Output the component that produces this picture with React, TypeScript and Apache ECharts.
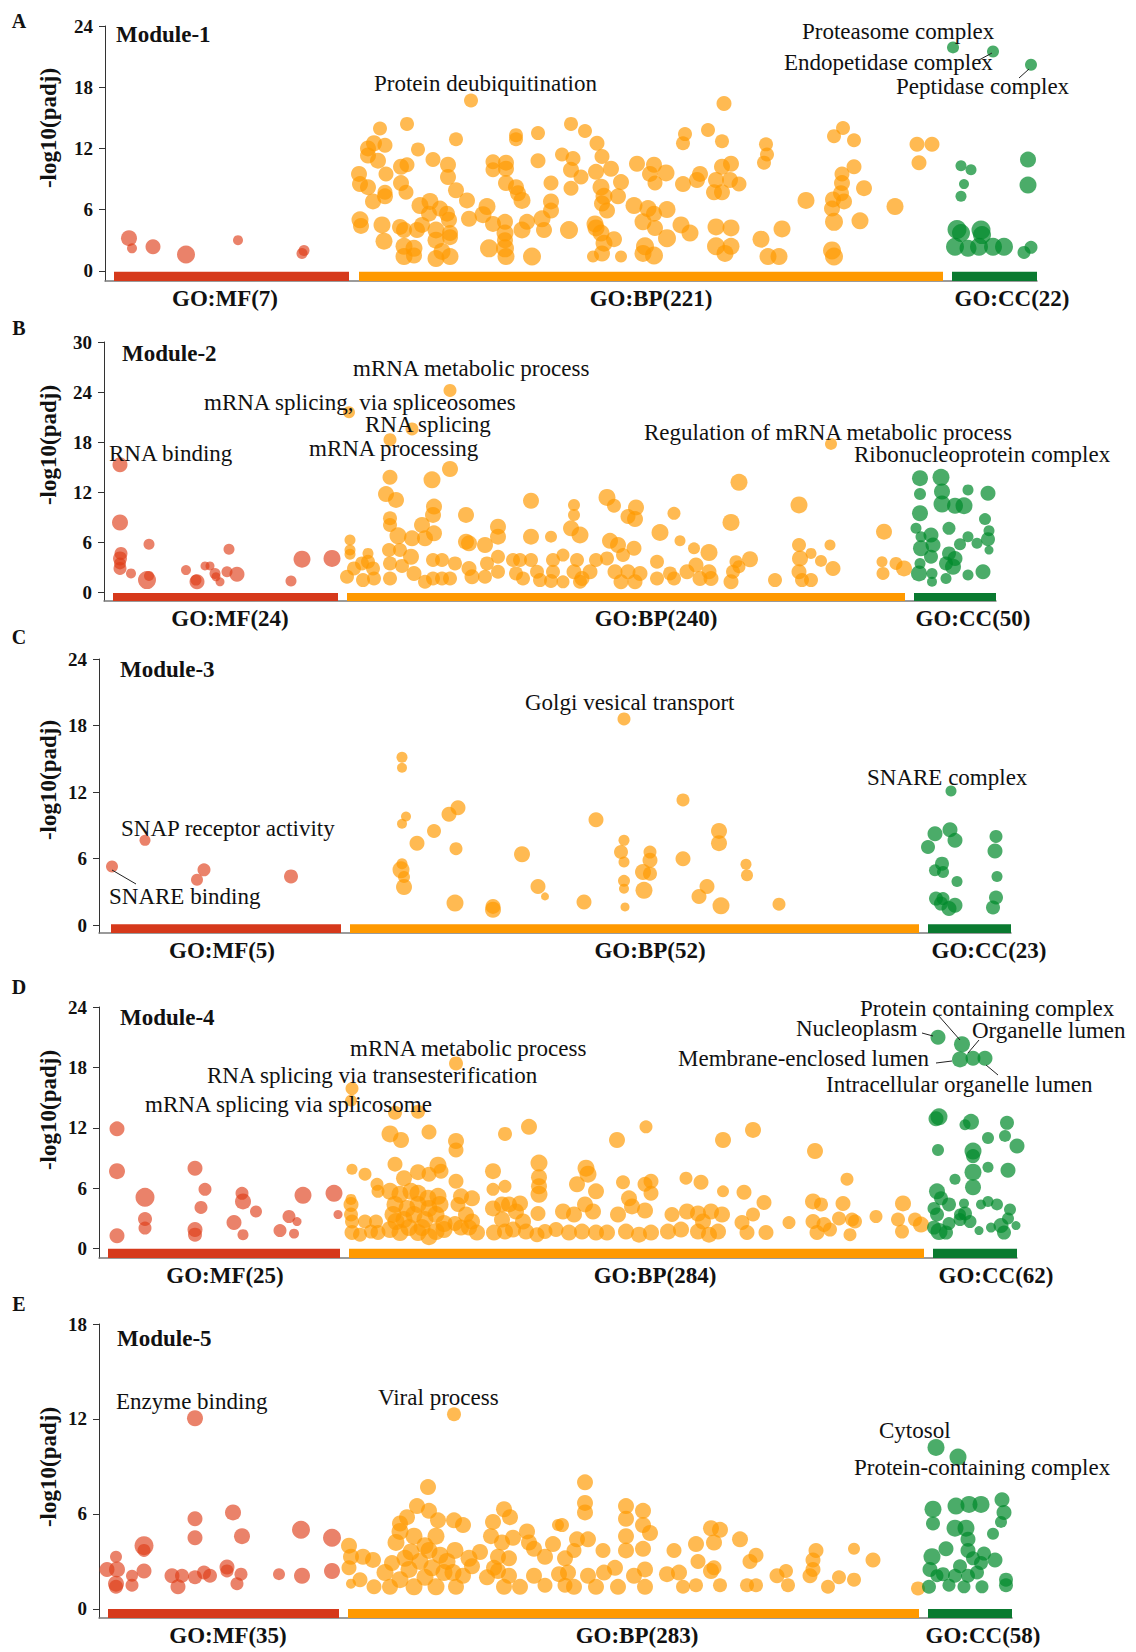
import React, { useEffect, useRef } from 'react';
import * as echarts from 'echarts';

// ---------- data: [term position, -log10(padj), term size marker] ----------
const m1MF = [[129,3.2,14],[132,2.2,8],[153,2.35,13],[186,1.6,16],[238,3.0,8],[304,2.0,9],[302,1.7,9]];
const m1BP = [[471,16.7,12],[380,13.95,12],[407,14.4,12],[368,12.0,14],[374,12.5,14],[385,12.3,13],[368,11.3,14],[378,10.8,14],[418,11.9,12],[456,12.9,12],[516,13.3,12],[516,12.9,12],[538,13.5,12],
[359,9.5,14],[360,8.5,14],[368,8.2,14],[386,9.5,13],[401,10.2,14],[407,10.4,13],[401,8.6,14],[406,7.7,13],[433,10.9,13],[448,10.4,14],[448,9.2,14],[456,7.9,14],[493,10.7,13],[493,9.9,13],[506,10.6,14],[506,10.0,14],[506,8.6,14],[516,8.2,14],[538,10.8,13],[551,8.6,13],
[373,6.8,14],[385,7.3,14],[385,7.7,13],[420,6.4,15],[430,6.8,15],[429,5.6,14],[440,6.1,14],[447,5.6,14],[467,6.9,14],[487,6.3,15],[518,7.6,14],[522,6.9,15],[551,6.8,14],[551,5.9,14],
[360,5.0,15],[361,4.4,14],[382,4.5,15],[400,4.3,14],[404,4.0,14],[417,4.0,14],[422,4.5,14],[436,4.0,15],[449,5.0,14],[450,3.7,14],[469,5.1,14],[483,5.5,15],[493,4.6,14],[505,4.8,14],[505,3.7,15],[505,3.0,14],[522,4.0,15],[527,4.8,14],[542,5.1,15],[544,4.0,14],
[384,2.9,15],[404,2.4,15],[404,1.4,15],[414,2.2,15],[414,1.5,14],[436,3.0,15],[436,1.2,15],[442,1.9,15],[450,1.4,15],[450,3.3,14],[489,2.2,16],[505,2.2,16],[506,1.4,15],[532,1.4,16],
[724,16.4,13],[571,14.4,12],[585,13.7,12],[597,12.5,13],[685,13.4,12],[683,12.5,12],[708,13.8,12],[722,12.7,12],[766,12.4,12],[767,11.4,12],[764,10.6,12],[834,13.2,12],[843,14.0,12],[854,12.8,12],[917,12.4,13],[932,12.4,13],[919,10.6,13],
[562,11.4,12],[573,11.0,13],[571,9.9,14],[602,11.2,13],[596,9.7,14],[611,10.0,14],[637,10.5,14],[654,10.4,14],[650,9.5,14],[666,9.6,15],[655,8.6,13],[683,8.5,14],[697,8.9,14],[700,9.5,14],[722,10.2,14],[731,10.5,14],[716,8.9,14],[730,8.9,14],[739,8.5,13],[621,8.7,14],[571,8.1,13],[581,9.2,13],[601,8.2,15],[604,7.3,15],[714,7.7,14],[722,7.7,14],
[842,9.5,13],[842,8.6,14],[854,10.2,13],[864,8.1,14],[841,7.6,14],[833,7.0,14],[844,6.8,14],[806,6.9,15],[895,6.3,15],
[618,7.3,14],[634,6.4,15],[602,6.6,14],[607,5.9,14],[648,6.1,15],[654,5.6,14],[667,6.0,15],[643,4.8,15],[832,6.1,14],[834,4.8,16],[860,4.9,15],
[569,4.0,16],[595,4.6,15],[601,3.7,15],[596,4.2,15],[604,2.7,15],[614,3.1,14],[593,1.4,10],[602,1.7,14],[621,1.4,10],[655,4.2,14],[667,3.2,16],[681,4.5,15],[690,3.7,15],[716,4.3,15],[731,4.2,15],[716,2.4,16],[731,2.4,15],[725,1.7,15],[645,2.4,16],[654,1.5,16],[643,1.7,15],[761,3.1,15],[782,4.1,15],[768,1.4,15],[779,1.4,15],[832,2.0,16],[834,1.4,16]];
const m1CC = [[953,21.9,10],[993,21.5,10],[1031,20.2,10],[961,10.3,9],[971,9.9,9],[964,8.5,8],[961,7.3,9],[1028,10.9,14],[1028,8.4,15],[957,4.05,17],[961,3.7,16],[981,4.0,17],[982,3.5,16],[955,2.35,16],[968,2.2,15],[979,2.35,16],[993,2.35,16],[1004,2.35,16],[1024,1.8,11],[1031,2.3,11]];

const m2MF = [[120,15.3,13],[120,8.4,14],[121,4.7,11],[120,4.1,12],[120,2.9,11],[120,3.5,10],[131,2.3,8],[147,1.5,16],[149,2.0,8],[149,5.8,9],[186,2.7,8],[197,1.3,13],[196,1.5,9],[205,3.2,7],[210,3.2,7],[215,2.3,9],[220,1.3,7],[216,1.9,7],[229,5.2,9],[227,2.5,9],[237,2.2,13],[291,1.4,9],[302,4.0,15],[332,4.1,15]];
const m2BP = [[349,21.6,10],[450,24.2,11],[412,19.6,11],[390,18.3,11],[450,14.8,14],[390,13.8,13],[432,13.5,15],[386,11.8,14],[396,11.1,14],[531,11.0,14],[466,9.3,14],[434,10.3,14],[433,9.3,14],[390,8.9,12],[390,8.1,12],[422,8.1,14],[434,7.1,14],[398,6.8,15],[412,6.5,14],[425,6.5,14],[498,7.9,14],[498,6.7,14],[531,6.7,14],[551,6.7,10],[466,6.1,14],[469,5.9,14],[485,5.7,14],
[350,6.3,9],[350,5.1,9],[350,4.6,9],[368,4.7,9],[389,5.1,12],[400,5.1,12],[411,4.3,14],[402,3.2,12],[347,1.9,12],[354,2.9,12],[362,3.5,12],[363,1.5,12],[374,1.7,12],[373,2.9,12],[368,3.7,12],[390,3.5,12],[390,1.7,12],[414,2.3,13],[425,1.3,12],[433,1.7,12],[442,1.7,12],[442,3.9,12],[433,3.9,12],[450,1.7,12],[455,3.5,12],[472,1.9,13],[469,2.9,13],[487,3.5,12],[485,1.9,12],[498,4.3,12],[498,2.5,12],[513,3.9,12],[520,3.9,12],[516,2.3,12],[523,1.7,12],[531,3.9,12],[537,2.5,12],[540,1.5,12],[553,3.9,12],[553,2.5,12],[551,1.4,12],
[831,17.8,10],[739,13.2,15],[607,11.4,15],[614,10.4,12],[636,10.2,14],[628,9.1,13],[635,8.8,14],[674,9.5,11],[799,10.5,15],[731,8.4,15],[884,7.3,14],[574,10.5,10],[574,9.3,10],[660,7.2,15],[571,7.7,14],[580,6.9,15],[610,6.2,14],[618,5.7,14],[634,5.3,13],[623,4.5,12],[680,6.2,9],[694,5.3,10],[709,4.8,15],[799,5.7,12],[830,5.7,9],[750,4.0,14],[736,3.7,11],[800,4.1,14],[811,4.7,9],[821,3.8,10],[833,2.9,13],[882,3.7,9],[896,3.5,11],[904,2.9,14],[883,2.3,11],[563,4.5,11],[577,3.9,12],[596,3.9,12],[563,1.3,11],[574,2.5,13],[582,1.7,13],[590,2.5,13],[580,1.3,12],[607,4.1,12],[615,2.5,13],[621,1.3,13],[628,2.5,13],[635,1.3,13],[640,2.3,13],[657,3.7,12],[657,1.7,12],[670,2.3,12],[674,1.7,12],[687,2.5,13],[696,3.3,13],[700,1.7,13],[709,2.5,13],[711,1.7,13],[731,1.3,13],[733,2.5,12],[739,3.1,11],[775,1.5,12],[799,2.5,13],[802,1.5,12],[811,1.5,12]];
const m2CC = [[997,15.3,12],[920,13.7,14],[941,13.8,15],[968,12.3,9],[988,11.9,13],[920,11.8,10],[942,12.1,14],[942,10.6,15],[955,10.4,14],[964,10.4,15],[920,9.5,14],[985,8.8,10],[916,7.7,9],[949,7.7,11],[989,7.4,9],[921,6.7,9],[931,6.9,13],[933,5.7,13],[921,5.3,14],[968,6.7,9],[977,5.9,9],[960,5.8,10],[988,6.4,12],[989,5.1,7],[949,4.7,12],[955,4.1,13],[931,4.3,12],[920,3.5,9],[946,3.5,12],[953,3.1,14],[919,2.3,14],[932,2.3,9],[932,1.3,8],[946,1.7,9],[968,2.1,9],[983,2.5,13]];

const m3MF = [[112,5.3,10],[145,7.65,9],[204,5.0,11],[197,4.1,10],[291,4.4,12]];
const m3BP = [[402,15.15,9],[402,14.2,8],[406,9.8,8],[402,9.15,8],[434,8.5,12],[417,7.4,13],[449,10.0,13],[458,10.6,13],[456,6.9,11],[522,6.4,14],[402,5.55,9],[401,5.0,15],[404,4.35,10],[404,3.45,14],[538,3.5,13],[545,2.6,6],[455,2.0,15],[493,1.7,13],[493,1.4,14],
[624,18.6,11],[683,11.3,11],[596,9.5,13],[624,7.65,9],[621,6.6,12],[624,5.7,9],[650,6.6,11],[650,5.85,13],[643,4.8,14],[650,4.65,12],[683,6.0,13],[719,8.5,14],[719,7.4,14],[746,5.5,9],[747,4.5,10],[624,4.0,10],[624,3.3,8],[644,3.15,15],[707,3.5,13],[699,2.6,13],[584,2.1,13],[625,1.65,7],[721,1.75,15],[779,1.9,11]];
const m3CC = [[951,12.1,9],[935,8.25,13],[950,8.6,13],[955,7.65,13],[928,7.05,12],[996,8.0,11],[995,6.7,13],[942,5.55,12],[935,4.95,10],[943,4.8,10],[957,3.95,9],[997,4.4,9],[936,2.4,12],[943,2.4,11],[955,1.8,13],[949,1.5,13],[941,1.95,12],[996,2.5,12],[993,1.6,12]];

const m4MF = [[117,11.9,13],[117,7.7,14],[117,1.3,13],[145,5.1,17],[145,2.95,12],[145,2.05,11],[195,8.0,13],[205,5.9,11],[201,4.1,11],[195,1.9,13],[195,1.4,12],[234,2.6,13],[242,5.5,11],[243,4.7,14],[256,3.7,10],[243,1.4,9],[280,1.8,11],[294,1.5,8],[289,3.2,11],[297,2.7,7],[303,5.3,15],[334,5.5,15],[338,3.4,7]];
const m4BP = [[352,15.9,11],[351,14.7,10],[456,18.4,12],[395,13.5,12],[418,13.6,12],[390,11.4,15],[401,10.8,14],[429,11.6,13],[456,10.7,14],[456,9.8,13],[505,11.4,12],[529,12.1,14],[395,8.4,13],[404,7.0,14],[418,7.6,14],[429,7.4,13],[438,8.3,15],[441,7.7,13],[456,6.7,13],[493,7.7,14],[493,5.9,11],[505,6.2,11],[539,8.5,15],[539,7.1,14],[539,6.2,14],[539,5.4,15],[352,7.9,9],[365,7.4,11],[377,6.4,11],[378,5.7,11],[351,4.9,9],[351,4.4,13],[351,3.4,12],[352,2.7,12],[352,1.6,13],[360,1.4,12],[365,2.7,12],[376,2.7,12],[371,1.7,12],[378,1.6,13],
[390,5.7,15],[400,5.4,15],[411,5.7,15],[418,5.5,15],[428,5.0,15],[438,5.2,15],[395,4.4,15],[407,4.0,15],[418,4.4,15],[429,4.0,15],[440,4.4,15],[393,3.4,15],[404,2.9,15],[414,3.4,15],[425,2.9,15],[436,3.4,15],[444,2.5,15],[390,1.9,15],[400,1.6,15],[409,2.1,15],[418,1.6,15],[429,1.2,15],[436,1.7,15],[444,1.9,15],[396,2.7,15],[422,2.1,15],
[461,5.2,14],[472,5.0,14],[458,4.4,13],[466,3.4,14],[472,2.7,14],[461,2.1,14],[477,1.6,14],[469,2.1,14],[455,2.5,13],
[493,4.0,14],[502,4.4,14],[509,4.4,14],[520,4.5,14],[516,3.7,14],[502,2.9,14],[523,2.7,14],[494,1.6,14],[505,1.7,14],[513,1.9,14],[526,1.7,14],[537,1.4,13],[538,3.5,13],[545,1.7,13],[556,1.9,13],
[646,12.1,11],[617,10.8,14],[723,10.8,14],[753,11.8,14],[815,9.7,14],[586,8.0,15],[588,7.4,15],[577,6.4,14],[596,5.7,14],[623,6.6,12],[651,6.7,13],[645,6.4,13],[651,5.5,13],[686,7.0,11],[701,6.6,13],[847,6.9,11],[723,5.7,10],[744,5.6,13],[764,4.6,13],[903,4.5,14],[629,5.0,14],[632,4.2,14],[645,3.8,14],[618,3.4,14],[585,4.4,14],[593,3.7,14],[574,3.4,14],[563,3.7,14],[672,3.4,13],[687,3.7,14],[698,3.5,14],[711,3.7,14],[722,3.4,14],[703,2.7,14],[753,3.4,12],[742,2.6,13],[813,4.7,14],[821,4.4,12],[843,4.5,13],[813,2.7,13],[824,2.4,13],[839,3.0,12],[852,2.9,12],[855,2.7,12],[876,3.2,11],[789,2.6,11],[898,2.9,12],[915,2.9,12],[921,2.4,14],[902,1.7,12],
[569,1.6,14],[582,1.7,14],[596,1.6,14],[607,1.6,14],[626,1.7,14],[639,1.4,14],[651,1.6,14],[668,1.7,14],[681,1.9,14],[698,1.7,14],[709,1.4,14],[718,1.7,14],[747,1.6,13],[766,1.6,13],[817,1.6,13],[830,1.9,12],[850,1.4,11]];
const m4CC = [[938,21.0,13],[962,20.3,14],[960,18.8,14],[973,18.9,13],[985,18.9,13],[939,13.1,15],[936,12.9,13],[971,12.6,14],[965,12.3,9],[1007,12.5,12],[1005,11.2,10],[1017,10.2,13],[988,11.0,10],[938,9.8,10],[973,9.7,15],[973,9.2,12],[988,8.1,9],[1008,7.8,13],[973,7.6,15],[955,6.9,9],[973,6.1,14],[937,5.7,14],[941,5.0,12],[949,4.4,12],[964,4.5,8],[981,4.4,8],[988,4.7,9],[997,4.4,10],[934,4.0,11],[937,3.4,12],[965,3.5,12],[960,2.9,11],[970,2.7,11],[1010,3.9,10],[1008,3.0,10],[934,2.1,12],[939,1.7,15],[946,1.6,12],[949,2.5,11],[979,1.8,7],[991,2.1,8],[1001,2.3,13],[1004,1.6,12],[1016,2.3,7],[960,3.4,10]];

const m5MF = [[195,12.05,14],[233,6.1,14],[195,5.7,13],[195,4.5,13],[242,4.6,14],[301,5.0,16],[332,4.5,16],[144,4.0,17],[144,3.7,11],[116,3.3,10],[117,2.5,14],[107,2.5,13],[116,1.6,14],[116,1.4,12],[132,2.1,10],[132,1.5,11],[144,2.4,13],[172,2.1,13],[178,1.4,13],[182,2.1,12],[195,2.0,12],[204,2.3,12],[210,2.1,12],[227,2.65,13],[227,2.4,11],[237,1.6,11],[241,2.2,11],[279,2.2,10],[302,2.1,14],[332,2.4,14]];
const m5BP = [[454,12.3,12],[428,7.7,14],[417,6.5,14],[429,6.2,14],[438,5.6,14],[400,5.4,14],[407,5.8,14],[454,5.6,14],[463,5.3,14],[504,6.3,14],[493,5.5,14],[510,5.8,14],[491,4.6,14],[558,5.3,10],[527,4.9,14],[529,4.2,14],[400,4.9,15],[396,4.2,15],[414,4.6,15],[436,4.6,15],[429,3.7,15],[440,3.4,15],[455,3.7,15],[469,3.2,15],[349,4.0,14],[351,3.3,14],[363,3.3,14],[373,3.1,14],[502,4.2,14],[513,4.5,14],[498,3.3,14],[509,3.2,14],[534,3.8,14],[545,3.3,14],[553,4.1,14],[565,3.2,14],
[420,3.0,15],[432,2.6,15],[447,3.0,15],[405,3.2,15],[392,2.9,14],[425,4.0,15],[411,3.6,15],[498,2.4,14],[480,3.6,14],
[349,2.6,13],[360,1.85,13],[351,1.6,8],[374,1.4,13],[385,2.3,15],[390,1.4,14],[400,1.85,15],[409,2.5,15],[414,1.4,15],[425,2.0,15],[436,1.4,15],[444,2.3,15],[453,2.3,15],[456,1.4,14],[463,2.1,14],[472,2.7,14],[487,2.0,14],[494,2.6,14],[504,1.4,14],[509,2.1,14],[520,1.4,14],[534,2.1,14],[545,1.5,13],[559,2.2,14],[565,1.5,13],
[585,8.0,14],[585,6.7,14],[585,6.1,14],[626,6.5,14],[643,6.2,14],[626,5.7,14],[643,5.3,14],[650,4.8,14],[626,4.6,14],[643,3.8,14],[626,3.7,14],[562,5.3,12],[577,4.4,14],[588,4.4,14],[574,3.7,13],[603,3.7,13],[711,5.1,14],[720,5.0,14],[696,4.1,14],[714,4.2,14],[740,4.4,14],[674,3.7,13],[698,3.0,13],[714,2.6,13],[750,3.0,13],[756,3.4,13],[816,3.7,13],[813,3.1,13],[854,3.8,10],[873,3.1,13],
[568,2.3,14],[574,1.4,14],[588,2.1,14],[596,1.4,14],[604,2.3,14],[615,2.6,14],[618,1.4,14],[634,2.1,14],[645,2.5,14],[645,1.4,14],[667,2.2,14],[679,2.3,14],[683,1.4,12],[696,1.5,12],[711,2.4,14],[720,1.5,12],[747,1.5,12],[756,1.5,12],[777,2.1,13],[786,2.4,12],[788,1.5,12],[810,2.1,13],[813,2.5,13],[828,1.4,12],[839,2.0,12],[854,1.85,12],[918,1.3,12]];
const m5CC = [[936,10.2,15],[958,9.6,15],[933,6.3,15],[956,6.5,15],[969,6.6,15],[981,6.6,15],[1002,6.9,13],[1004,6.1,13],[1001,5.5,10],[1013,4.6,13],[993,4.75,10],[933,5.4,12],[955,5.1,15],[966,5.1,15],[968,4.4,13],[946,3.8,13],[932,3.3,15],[968,3.7,13],[973,3.2,12],[984,3.5,12],[995,3.1,13],[981,2.9,12],[930,2.5,13],[943,2.2,12],[960,2.7,12],[968,2.1,12],[977,2.3,12],[929,1.4,12],[949,1.5,11],[964,1.4,11],[982,1.4,11],[1006,1.85,12],[1006,1.5,12],[937,2.1,11],[955,2.1,12]];

// category spans along the term-position axis (MF, BP, CC)
const m1Spans = [[114,349],[359,943],[952,1037]];
const m2Spans = [[113,338],[347,905],[914,996]];
const m3Spans = [[111,341],[350,919],[928,1011]];
const m4Spans = [[108,340],[349,924],[933,1017]];
const m5Spans = [[108,339],[348,919],[928,1012]];

const categoryLabels = [
  ['GO:MF(7)','GO:BP(221)','GO:CC(22)'],
  ['GO:MF(24)','GO:BP(240)','GO:CC(50)'],
  ['GO:MF(5)','GO:BP(52)','GO:CC(23)'],
  ['GO:MF(25)','GO:BP(284)','GO:CC(62)'],
  ['GO:MF(35)','GO:BP(283)','GO:CC(58)'],
];
const moduleNames = ['Module-1','Module-2','Module-3','Module-4','Module-5'];
const panelLetters = ['A','B','C','D','E'];
const yTickValues = [[0,6,12,18,24],[0,6,12,18,24,30],[0,6,12,18,24],[0,6,12,18,24],[0,6,12,18]];

// ---------- layout ----------
const FONT = 'Liberation Serif';
const layout = [
  { top: 26, height: 255, xr: [105,1037], ymin: -1, ymax: 24, barTop: -0.1, labelPos: [225,651,1012], title: [116,34], letter: [19,21], yname: [48,128] },
  { top: 342, height: 259, xr: [104,996], ymin: -1, ymax: 30, barTop: -0.05, labelPos: [230,656,973], title: [122,353], letter: [19,328], yname: [48,445] },
  { top: 659, height: 274, xr: [99,1011], ymin: -0.7, ymax: 24, barTop: 0.1, labelPos: [222,650,989], title: [120,669], letter: [19,637], yname: [48,780] },
  { top: 1007, height: 251, xr: [99,1017], ymin: -0.92, ymax: 24, barTop: 0, labelPos: [225,655,996], title: [120,1017], letter: [19,987], yname: [48,1110] },
  { top: 1324, height: 294, xr: [99,1012], ymin: -0.57, ymax: 18, barTop: 0, labelPos: [228,637,983], title: [117,1338], letter: [19,1304], yname: [48,1467] },
];
const annotations: [string, number, number][] = [
  ['Protein deubiquitination', 374, 83], ['Proteasome complex', 802, 31], ['Endopetidase complex', 784, 62], ['Peptidase complex', 896, 86],
  ['mRNA metabolic process', 353, 368], ['mRNA splicing, via spliceosomes', 204, 402], ['RNA splicing', 365, 424], ['mRNA processing', 309, 448], ['RNA binding', 109, 453], ['Regulation of mRNA metabolic process', 644, 432], ['Ribonucleoprotein complex', 854, 454],
  ['SNAP receptor activity', 121, 828], ['SNARE binding', 109, 896], ['Golgi vesical transport', 525, 702], ['SNARE complex', 867, 777],
  ['mRNA metabolic process', 350, 1048], ['RNA splicing via transesterification', 207, 1075], ['mRNA splicing via splicosome', 145, 1104], ['Protein containing complex', 860, 1008], ['Nucleoplasm', 796, 1028], ['Organelle lumen', 972, 1030], ['Membrane-enclosed lumen', 678, 1058], ['Intracellular organelle lumen', 826, 1084],
  ['Enzyme binding', 116, 1401], ['Viral process', 378, 1397], ['Cytosol', 879, 1430], ['Protein-containing complex', 854, 1467],
];
const leaders = [
  [979,60,992,53],[1019,78,1029,69],
  [112,870,136,884],
  [922,1033,933,1036],[938,1015,960,1040],[979,1040,968,1053],[936,1063,952,1061],[986,1065,998,1075],
];
const catStyles = [
  { point: 'rgba(222,60,22,0.8)', bar: '#d6391b' },
  { point: 'rgba(255,153,0,0.85)', bar: '#ff9900' },
  { point: 'rgba(0,138,42,0.88)', bar: '#0a7a30' },
];

const panels = [
  { data: [m1MF, m1BP, m1CC], spans: m1Spans },
  { data: [m2MF, m2BP, m2CC], spans: m2Spans },
  { data: [m3MF, m3BP, m3CC], spans: m3Spans },
  { data: [m4MF, m4BP, m4CC], spans: m4Spans },
  { data: [m5MF, m5BP, m5CC], spans: m5Spans },
];

export default function App() {
  const ref = useRef<HTMLDivElement>(null);
  useEffect(() => {
    document.body.style.margin = '0';
    const chart = echarts.init(ref.current!, undefined, { renderer: 'svg' });
    const grid: any[] = [], xAxis: any[] = [], yAxis: any[] = [], series: any[] = [];
    const graphic: any[] = [];
    panels.forEach((p, i) => {
      const L = layout[i];
      grid.push({ left: L.xr[0], width: L.xr[1] - L.xr[0], top: L.top, height: L.height });
      const labels = categoryLabels[i];
      xAxis.push({
        gridIndex: i, type: 'value', min: L.xr[0], max: L.xr[1],
        axisLine: { show: true, onZero: false, lineStyle: { color: '#7a7a7a', width: 1.5 } },
        axisTick: { show: false }, splitLine: { show: false },
        axisLabel: {
          customValues: L.labelPos,
          formatter: (v: number) => labels[L.labelPos.indexOf(v)] || '',
          fontFamily: FONT, fontWeight: 'bold', fontSize: 23, color: '#111', margin: 6,
        },
      });
      yAxis.push({
        gridIndex: i, type: 'value', min: L.ymin, max: L.ymax,
        axisLine: { show: true, onZero: false, lineStyle: { color: '#333', width: 1 } },
        axisTick: { show: true, length: 6, customValues: yTickValues[i], lineStyle: { color: '#333' } },
        axisLabel: { customValues: yTickValues[i], fontFamily: FONT, fontWeight: 'bold', fontSize: 19, color: '#111', margin: 12 },
        splitLine: { show: false },
      });
      p.data.forEach((d, c) => {
        series.push({
          type: 'scatter', xAxisIndex: i, yAxisIndex: i, data: d, silent: true,
          symbolSize: (v: number[]) => v[2] + 2,
          itemStyle: { color: catStyles[c].point },
          markArea: {
            silent: true, itemStyle: { color: catStyles[c].bar }, label: { show: false },
            data: [[{ coord: [p.spans[c][0], L.ymin] }, { coord: [p.spans[c][1], L.barTop] }]],
          },
        });
      });
      graphic.push({ type: 'text', x: L.letter[0], y: L.letter[1], style: { text: panelLetters[i], fontFamily: FONT, fontWeight: 'bold', fontSize: 20, fill: '#111', align: 'center', verticalAlign: 'middle' } });
      graphic.push({ type: 'text', x: L.title[0], y: L.title[1], style: { text: moduleNames[i], fontFamily: FONT, fontWeight: 'bold', fontSize: 23, fill: '#111', align: 'left', verticalAlign: 'middle' } });
      graphic.push({ type: 'text', x: L.yname[0], y: L.yname[1], rotation: Math.PI / 2, style: { text: '-log10(padj)', fontFamily: FONT, fontWeight: 'bold', fontSize: 23, fill: '#111', align: 'center', verticalAlign: 'middle' } });
    });
    annotations.forEach(([t, x, y]) => {
      graphic.push({ type: 'text', x, y, z: 100, style: { text: t, fontFamily: FONT, fontSize: 23, fill: '#111', align: 'left', verticalAlign: 'middle' } });
    });
    leaders.forEach(([x1, y1, x2, y2]) => {
      graphic.push({ type: 'line', z: 100, shape: { x1, y1, x2, y2 }, style: { stroke: '#222', lineWidth: 1 } });
    });
    chart.setOption({ animation: false, backgroundColor: '#fff', grid, xAxis, yAxis, series, graphic });
    return () => chart.dispose();
  }, []);
  return <div ref={ref} style={{ position: 'absolute', left: 0, top: 0, width: 1136, height: 1652 }} />;
}
